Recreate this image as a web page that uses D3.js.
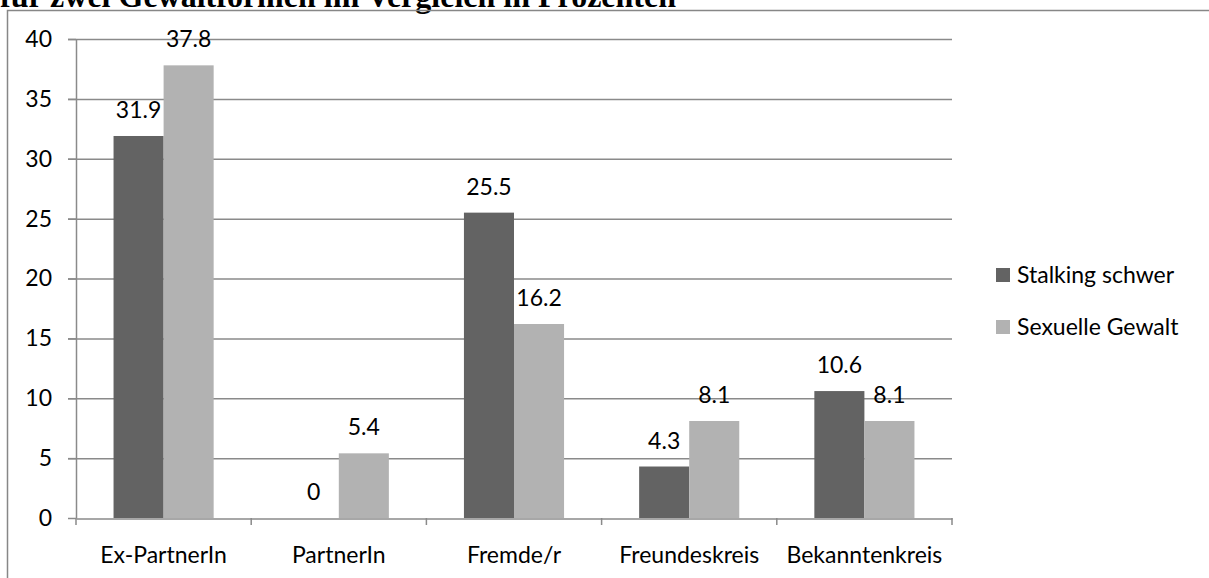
<!DOCTYPE html>
<html><head><meta charset="utf-8">
<script src="https://cdn.jsdelivr.net/npm/d3@7"></script>
<style>body{margin:0;background:#fff;overflow:hidden}</style>
</head><body>
<svg id="c" width="1209" height="578"></svg>
<script>
const categories = ["Ex-PartnerIn","PartnerIn","Fremde/r","Freundeskreis","Bekanntenkreis"];
const seriesNames = ["Stalking schwer","Sexuelle Gewalt"];
const stalking = [31.9, 0, 25.5, 4.3, 10.6];
const sexuell = [37.8, 5.4, 16.2, 8.1, 8.1];
const yTicks = [0,5,10,15,20,25,30,35,40];
const colors = ["#636363","#b2b2b2"];

const svg = d3.select("#c");
const font = "Lato, 'Open Sans', sans-serif";
const fs = 23;

// title (cut off at top)
svg.append("text").attr("x",0).attr("y",7)
  .attr("font-family","'Liberation Serif', serif").attr("font-weight","bold")
  .attr("font-size",32).attr("fill","#000")
  .text("für zwei Gewaltformen im Vergleich in Prozenten");

// frame
svg.append("rect").attr("x",7.5).attr("y",10.5).attr("width",1210).attr("height",600)
  .attr("fill","none").attr("stroke","#878787").attr("stroke-width",1.5);

const x0 = 76, x1 = 952, yTop = 39, yBot = 518;
const x = d3.scaleBand().domain(categories).range([x0,x1]).paddingInner(0).paddingOuter(0);
const y = d3.scaleLinear().domain([0,40]).range([yBot,yTop]);
const inner = d3.scaleBand().domain(seriesNames).range([0,x.bandwidth()]).paddingInner(0).paddingOuter(0.75);

// gridlines
svg.append("g").selectAll("line").data(yTicks.filter(d=>d>0)).join("line")
  .attr("x1",68).attr("x2",x1).attr("y1",d=>y(d)+0.5).attr("y2",d=>y(d)+0.5)
  .attr("stroke","#8a8a8a").attr("stroke-width",1.5);

// y axis
const yAxis = svg.append("g").attr("transform",`translate(${x0},0)`)
  .call(d3.axisLeft(y).tickValues(yTicks).tickSize(8).tickPadding(16).tickSizeOuter(0));
yAxis.select(".domain").attr("stroke","#8a8a8a").attr("stroke-width",1.5);
yAxis.selectAll(".tick line").attr("stroke","#8a8a8a").attr("stroke-width",1.5);
yAxis.selectAll("text").attr("font-family",font).attr("font-size",fs).attr("fill","#000");

// bars
const data = categories.map((c,i)=>({c, vals:[stalking[i], sexuell[i]]}));
const groups = svg.append("g").selectAll("g").data(data).join("g")
  .attr("transform",d=>`translate(${x(d.c)},0)`);
groups.selectAll("rect").data(d=>d.vals.map((v,j)=>({v, s:seriesNames[j], j})))
  .join("rect")
  .attr("x",d=>inner(d.s)).attr("width",inner.bandwidth())
  .attr("y",d=>y(d.v)).attr("height",d=>yBot-y(d.v))
  .attr("fill",d=>colors[d.j]);
groups.selectAll("text").data(d=>d.vals.map((v,j)=>({v, s:seriesNames[j], j})))
  .join("text")
  .attr("x",d=>inner(d.s)+inner.bandwidth()/2).attr("y",d=>y(d.v)-18)
  .attr("text-anchor","middle").attr("font-family",font).attr("font-size",fs).attr("fill","#000")
  .text(d=>d.v);

// x axis
const xAxis = svg.append("g").attr("transform",`translate(0,${yBot+0.5})`)
  .call(d3.axisBottom(x).tickSize(0));
xAxis.select(".domain").attr("stroke","#8a8a8a").attr("stroke-width",1.5);
xAxis.selectAll("text").attr("y",44).attr("dy",0)
  .attr("font-family",font).attr("font-size",fs).attr("fill","#000");
svg.append("g").selectAll("line").data(d3.range(categories.length+1)).join("line")
  .attr("x1",i=>x0+i*x.step()).attr("x2",i=>x0+i*x.step())
  .attr("y1",yBot).attr("y2",yBot+7).attr("stroke","#8a8a8a").attr("stroke-width",1.5);

// legend
const lg = svg.append("g").selectAll("g").data(seriesNames).join("g")
  .attr("transform",(d,i)=>`translate(996,${268+i*52})`);
lg.append("rect").attr("width",14).attr("height",14).attr("fill",(d,i)=>colors[i]);
lg.append("text").attr("x",21).attr("y",15).attr("font-family",font).attr("font-size",fs)
  .attr("fill","#000").text(d=>d);
</script>
</body></html>
